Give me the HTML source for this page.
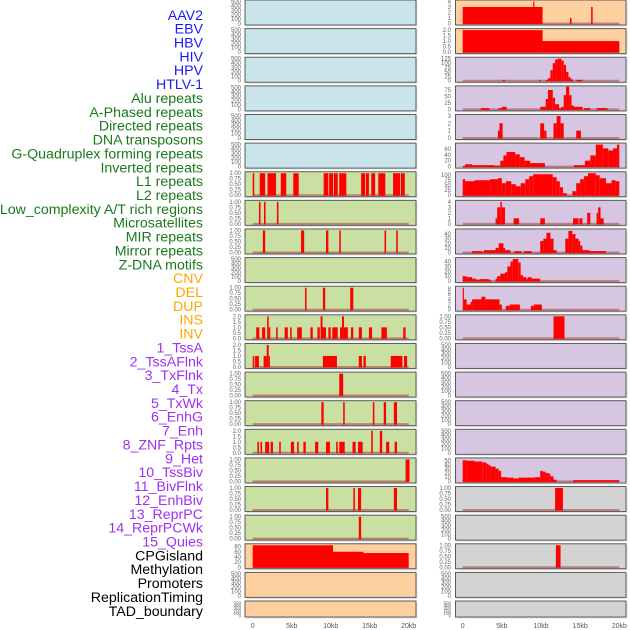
<!DOCTYPE html>
<html>
<head>
<meta charset="utf-8">
<style>
html,body{margin:0;padding:0;background:#fff;}
svg{display:block;font-family:"Liberation Sans",sans-serif;}
</style>
</head>
<body>
<svg id="chart" width="630" height="630" viewBox="0 0 630 630" xmlns="http://www.w3.org/2000/svg">
<g id="labels"></g>
<g id="panels"></g>
<g id="xaxis"></g>
</svg>
<script>
// ---- labels ----
const trackLabels = ["AAV2","EBV","HBV","HIV","HPV","HTLV-1","Alu repeats","A-Phased repeats","Directed repeats","DNA transposons","G-Quadruplex forming repeats","Inverted repeats","L1 repeats","L2 repeats","Low_complexity A/T rich regions","Microsatellites","MIR repeats","Mirror repeats","Z-DNA motifs","CNV","DEL","DUP","INS","INV","1_TssA","2_TssAFlnk","3_TxFlnk","4_Tx","5_TxWk","6_EnhG","7_Enh","8_ZNF_Rpts","9_Het","10_TssBiv","11_BivFlnk","12_EnhBiv","13_ReprPC","14_ReprPCWk","15_Quies","CPGisland","Methylation","Promoters","ReplicationTiming","TAD_boundary"];
const labelGroups = ["v","v","v","v","v","v","r","r","r","r","r","r","r","r","r","r","r","r","r","s","s","s","s","s","c","c","c","c","c","c","c","c","c","c","c","c","c","c","c","k","k","k","k","k"];

// ---- x axis ----
const xTickValues = [0,5,10,15,20];
const xTickLabels = ["0","5kb","10kb","15kb","20kb"];

// ---- left column ----
const leftBg = ["b","b","b","b","b","b","g","g","g","g","g","g","g","g","g","g","g","g","g","p","p","p"];
const leftMax = [500,500,500,500,500,500,1,1,1,500,1,2,2,1,1,2,1,1,1,85,500,500];
const leftTicks = [
 ["0","100","200","300","400","500"],["0","100","200","300","400","500"],["0","100","200","300","400","500"],
 ["0","100","200","300","400","500"],["0","100","200","300","400","500"],["0","100","200","300","400","500"],
 ["0.00","0.25","0.50","0.75","1.00"],["0.00","0.25","0.50","0.75","1.00"],["0.00","0.25","0.50","0.75","1.00"],
 ["0","100","200","300","400","500"],["0.00","0.25","0.50","0.75","1.00"],["0.0","0.5","1.0","1.5","2.0"],
 ["0.0","0.5","1.0","1.5","2.0"],["0.00","0.25","0.50","0.75","1.00"],["0.00","0.25","0.50","0.75","1.00"],
 ["0.0","0.5","1.0","1.5","2.0"],["0.00","0.25","0.50","0.75","1.00"],["0.00","0.25","0.50","0.75","1.00"],
 ["0.00","0.25","0.50","0.75","1.00"],["0","20","40","60","80"],["0","100","200","300","400","500"],["0","100","200","300","400","500"]
];
const leftBars = [
 [],[],[],[],[],[],
 [[0,0.2,1],[0.9,1.6,1],[1.9,3.0,1],[3.6,4.3,1],[5.2,5.9,1],[9.1,9.7,1],[9.8,10.3,1],[10.4,10.9,1],[11.1,12.0,1],[13.9,14.4,1],[14.5,14.9,1],[15.2,15.7,1],[16.1,17.0,1],[18.0,18.9,1],[19.0,19.5,1]],
 [[0.8,1.0,1],[1.45,1.65,1],[3.1,3.3,1]],
 [[1.3,1.6,1],[6.2,6.6,1],[9.4,9.7,1],[11.1,11.3,1],[16.9,17.1,1],[18.4,18.6,1]],
 [],
 [[6.7,6.9,1],[9.0,9.3,1],[12.5,12.9,1]],
 [[0.45,0.85,1],[1.2,1.6,1],[1.85,2.05,2],[2.05,2.25,1],[3.0,3.2,1],[4.1,4.5,1],[4.8,5.0,1],[5.7,6.3,1],[7.4,7.7,1],[8.3,8.6,1],[8.7,8.95,2],[8.95,9.4,1],[9.7,10.0,1],[10.2,10.9,1],[11.2,11.45,1],[11.45,11.7,2],[11.7,12.2,1],[12.6,12.9,1],[13.6,14.0,1],[14.9,15.3,1],[16.5,17.2,1],[19.3,19.6,1]],
 [[0,0.2,1],[0.3,0.8,1],[1.4,1.8,1],[1.8,2.05,2],[2.05,2.2,1],[9.0,10.8,1],[13.6,14.0,1],[14.2,14.5,1],[17.7,19.2,1],[19.4,19.8,1]],
 [[11.1,11.6,1]],
 [[8.8,9.1,1],[11.6,11.8,1],[15.4,15.6,1],[16.8,17.1,1],[18.1,18.5,1]],
 [[0.6,0.8,1],[1.0,1.2,1],[1.6,2.1,1],[2.3,2.6,1],[3.4,3.6,1],[4.9,5.3,1],[5.7,5.9,1],[6.5,6.8,1],[8.0,8.4,1],[9.4,9.9,1],[10.7,10.9,1],[11.1,11.8,1],[12.8,13.2,1],[13.5,14.1,1],[15.2,15.4,2],[16.3,16.6,2],[17.1,17.5,1],[18.2,18.5,1]],
 [[19.6,20.1,1]],
 [[9.4,9.7,1],[12.9,13.1,1],[13.5,13.9,1],[18.1,18.5,1]],
 [[13.6,13.9,1]],
 [[0,10.3,85],[10.3,14.2,60],[14.2,20,55]],
 [],[]
];

// ---- right column ----
const rightBg = ["p","p","u","u","u","u","u","u","u","u","u","u","u","u","u","u","u","g","g","g","g","g"];
const rightMax = [4,2,125,85,3,75,110,4,48,45,8.5,1,500,500,500,500,52,1,500,1,500,500];
const rightTicks = [
 ["0","1","2","3","4"],["0.0","0.5","1.0","1.5","2.0"],["0","25","50","75","100","125"],["0","25","50","75"],
 ["0","1","2","3"],["0","20","40","60"],["0","25","50","75","100"],["0","1","2","3","4"],
 ["0","10","20","30","40"],["0","10","20","30","40"],["0","2","4","6","8"],["0.00","0.25","0.50","0.75","1.00"],
 ["0","100","200","300","400","500"],["0","100","200","300","400","500"],["0","100","200","300","400","500"],
 ["0","100","200","300","400","500"],["0","10","20","30","40","50"],["0.00","0.25","0.50","0.75","1.00"],
 ["0","100","200","300","400","500"],["0.00","0.25","0.50","0.75","1.00"],["0","100","200","300","400","500"],["0","100","200","300","400","500"]
];
const rightBars = [
 [[0,10.2,3],[9.0,9.15,4],[13.7,13.9,1],[16.4,16.6,3]],
 [[0,10.2,2],[10.2,20,1]],
 [[5.1,5.4,5],[9.8,10.0,5],[10.6,10.9,5],[10.9,11.2,15],[11.2,11.5,60],[11.5,11.8,100],[11.8,12.1,120],[12.1,12.6,125],[12.6,12.9,115],[12.9,13.2,90],[13.2,13.5,50],[13.5,13.8,20],[13.8,14.1,8],[14.5,15.3,5]],
 [[2.3,3.4,5],[4.6,5.0,5],[5.0,5.6,10],[9.9,10.6,10],[10.6,10.9,40],[10.9,11.5,75],[11.5,11.8,45],[11.8,12.3,20],[12.3,12.6,5],[12.6,12.9,10],[12.9,13.2,55],[13.2,13.6,88],[13.6,13.9,55],[13.9,14.2,15],[14.2,15.3,10],[15.5,16.3,5],[17.1,18.5,5]],
 [[4.5,4.7,1],[4.7,5.1,2],[9.9,10.4,2],[10.4,10.7,1],[11.6,12.0,2],[12.0,12.5,3],[12.5,12.9,2],[14.5,15.1,1]],
 [[0,0.3,2],[0.3,1.2,8],[1.2,4.1,5],[4.1,4.8,3],[4.8,5.2,20],[5.2,5.6,38],[5.6,6.7,50],[6.7,7.3,42],[7.3,7.9,32],[7.9,8.6,20],[8.6,10.5,12],[14.2,15.6,5],[15.6,16.3,20],[16.3,17.0,38],[17.0,17.9,75],[17.9,18.6,62],[18.6,19.2,55],[19.2,19.7,62],[19.7,20,75]],
 [[0,0.3,80],[0.3,1.5,70],[1.5,3.5,75],[3.5,4.5,80],[4.5,5.0,85],[5.0,5.5,60],[5.5,6.2,70],[6.2,6.8,55],[6.8,7.4,45],[7.4,8.0,60],[8.0,8.5,80],[8.5,9.0,95],[9.0,11.5,105],[11.5,12.0,90],[12.0,12.4,70],[12.4,12.8,40],[12.8,13.3,10],[14.0,14.5,20],[14.5,15.0,60],[15.0,15.5,80],[15.5,16.0,95],[16.0,17.0,110],[17.0,17.5,100],[17.5,18.3,85],[18.3,19.0,60],[19.0,19.5,75],[19.5,20,70]],
 [[4.2,4.4,1],[4.4,4.8,3],[4.8,5.0,4],[5.0,5.4,3],[6.5,7.2,1],[9.9,10.5,1],[14.1,14.8,1],[14.9,15.3,1],[15.9,16.3,2],[17.1,17.3,2],[17.3,17.6,3],[17.6,18.0,1]],
 [[1.2,2.5,3],[2.5,2.7,1],[2.7,4.2,5],[4.2,4.6,10],[4.6,5.2,20],[5.2,5.4,10],[5.4,6.1,5],[6.6,7.5,3],[7.8,8.8,3],[9.9,10.3,25],[10.3,10.7,30],[10.7,11.2,43],[11.2,11.6,30],[11.6,12.0,5],[13.1,13.5,30],[13.5,14.0,47],[14.0,14.4,40],[14.4,14.8,30],[14.8,15.0,25],[15.0,15.3,15],[15.3,16.2,5],[16.2,18.3,3]],
 [[0,0.5,10],[0.5,1.2,8],[1.2,1.7,5],[1.7,2.2,3],[2.2,3.3,4],[3.3,3.6,3],[4.2,4.4,5],[4.4,4.8,10],[4.8,5.4,15],[5.4,5.7,18],[5.7,6.1,30],[6.1,6.4,40],[6.4,7.1,45],[7.1,7.4,38],[7.4,7.7,12],[7.7,8.1,8],[8.1,8.3,5],[8.3,8.8,8],[8.8,9.9,5]],
 [[0,0.15,8.5],[0.15,0.5,4],[0.5,1.0,2],[1.0,1.2,3],[1.2,2.4,4],[2.4,2.9,5],[2.9,4.7,4],[4.7,5.0,2],[5.5,6.0,1.5],[6.0,7.3,2],[8.7,9.1,1.5],[9.1,10.1,2]],
 [[11.6,13.0,1]],
 [],[],[],[],
 [[0,0.5,50],[0.5,1.5,49],[1.5,2.5,47],[2.5,3.0,45],[3.0,3.3,42],[3.3,3.6,38],[3.6,4.2,35],[4.2,4.6,30],[4.6,4.9,25],[4.9,5.7,10],[5.7,6.5,9],[6.5,7.1,7],[7.1,9.2,9],[9.2,9.9,10],[9.9,10.2,25],[10.2,10.6,23],[10.6,11.0,20],[11.0,11.2,18],[11.2,11.6,12],[11.6,12.0,4],[14.1,20,3]],
 [[11.8,12.8,1]],
 [],
 [[11.9,12.5,1]],
 [],[]
];

const bgColors = {b:"#c9e4eb", g:"#c9e0a2", p:"#ffd09f", u:"#d6c6e2", g2:"#d3d3d3"};
const groupColors = {v:"#1a1aff", r:"#1a7a1a", s:"#ffa500", c:"#a030f0", k:"#000000"};
const NS = "http://www.w3.org/2000/svg";

function mk(tag, attrs, parent){
  const e = document.createElementNS(NS, tag);
  for (const k in attrs) e.setAttribute(k, attrs[k]);
  parent.appendChild(e);
  return e;
}

const lab = document.getElementById("labels");
trackLabels.forEach((t,i)=>{
  const el = mk("text",{x:203, y:19.8 + i*13.86, "text-anchor":"end", "font-size":"14.2", fill:groupColors[labelGroups[i]]}, lab);
  el.textContent = t;
  
  
});

function rowTop(r){ return r*28.62; }
function rowH(r){ return r===21 ? 16 : 25; }

const cols = [
  {left:245, right:416, x0:252.7, x1:408.7, tickX:241, bg:leftBg, max:leftMax, ticks:leftTicks, bars:leftBars, name:"left"},
  {left:455.5, right:626, x0:462.7, x1:619.3, tickX:451, bg:rightBg, max:rightMax, ticks:rightTicks, bars:rightBars, name:"right"}
];

const pan = document.getElementById("panels");
cols.forEach(c=>{
  const xs = kb => c.x0 + (kb/20)*(c.x1-c.x0);
  for (let r=0;r<22;r++){
    const top = rowTop(r), h = rowH(r);
    const g = mk("g",{},pan);
    
    
    const bgKey = c.bg[r] === "g" && c.name==="right" ? "g2" : c.bg[r];
    mk("rect",{x:c.left+1.5, y:top+1.5, width:c.right-c.left, height:h, fill:"#e4e4e4"}, g);
    mk("rect",{x:c.left, y:top, width:c.right-c.left, height:h, fill:bgColors[bgKey], stroke:"#5a5a5a", "stroke-width":1}, g);
    const ys = v => top + h - 1.5 - (v/c.max[r])*(h-3);
    c.ticks[r].forEach((t)=>{
      const v = parseFloat(t);
      const tt = mk("text",{x:c.tickX, y:ys(v)+2, "text-anchor":"end", "font-size": h<20?"4.5":"6", fill:"#666"}, g);
      tt.textContent = t;
      
      
    });
    const bars = c.bars[r];
    if (bars.length){
      const bl = mk("line",{x1:xs(0), x2:xs(20), y1:top+h-1.5, y2:top+h-1.5, stroke:"rgba(170,60,60,0.55)", "stroke-width":2}, g);
      
      
    }
    bars.forEach(b=>{
      const y = ys(b[2]);
      const rc = mk("rect",{x:xs(b[0]), y:y, width:Math.max(1.2, xs(b[1])-xs(b[0])), height:(top+h-1)-y, fill:"#ff0000"}, g);
      
      
    });
  }
});

const xa = document.getElementById("xaxis");
cols.forEach(c=>{
  const xs = kb => c.x0 + (kb/20)*(c.x1-c.x0);
  xTickValues.forEach((v,i)=>{
    const t = mk("text",{x:xs(v), y:628, "text-anchor":"middle", "font-size":"7", fill:"#555"}, xa);
    t.textContent = xTickLabels[i];
    
    
  });
});
</script>
</body>
</html>
